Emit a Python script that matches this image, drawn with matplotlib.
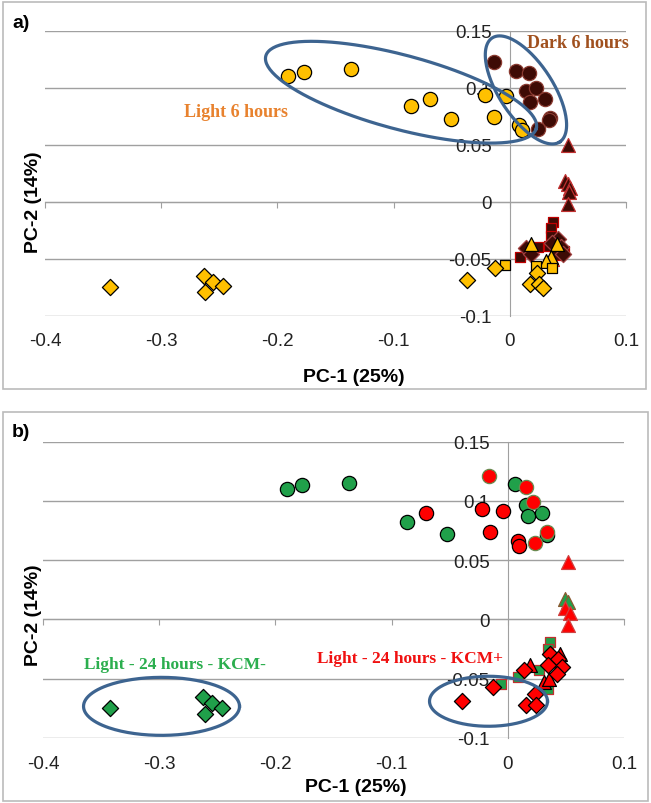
import numpy as np
import matplotlib.pyplot as plt
from matplotlib.patches import Rectangle

plt.rcParams['font.family'] = ['Liberation Sans', 'DejaVu Sans']

# ---- panel a data (PC-1, PC-2) ----
a_light_circ_x = [-0.191, -0.177, -0.137, -0.085, -0.069, -0.051, -0.021, -0.014, -0.003, 0.0077, 0.0106]
a_light_circ_y = [0.110, 0.114, 0.116, 0.0835, 0.090, 0.0729, 0.0934, 0.0744, 0.0923, 0.067, 0.0627]
a_dark_circ_x = [-0.0137, 0.0057, 0.0166, 0.0143, 0.0223, 0.0171, 0.030, 0.0343, 0.0335, 0.0243]
a_dark_circ_y = [0.1222, 0.1148, 0.1125, 0.0967, 0.0996, 0.087, 0.090, 0.0732, 0.0715, 0.0641]
a_dark_tri_x = [0.0503, 0.0477, 0.0498, 0.052, 0.0512, 0.0503, 0.036]
a_dark_tri_y = [0.0499, 0.0183, 0.0155, 0.012, 0.0083, -0.0017, -0.050]
a_dark_sq_x = [0.037, 0.0356, 0.0356, 0.0084, 0.024, 0.034, 0.047, 0.040]
a_dark_sq_y = [-0.018, -0.0228, -0.030, -0.0486, -0.040, -0.039, -0.043, -0.047]
a_dark_dia_x = [0.0141, 0.0184, 0.0418, 0.044, 0.0456, 0.036]
a_dark_dia_y = [-0.0404, -0.046, -0.0325, -0.040, -0.046, -0.036]
a_light_tri_x = [0.0184, 0.041, 0.0356, 0.0313]
a_light_tri_y = [-0.0375, -0.0375, -0.049, -0.052]
a_light_sq_x = [-0.0045, 0.0227, 0.0364]
a_light_sq_y = [-0.0556, -0.0565, -0.0585]
a_light_dia_x = [-0.344, -0.263, -0.255, -0.247, -0.262, -0.037, -0.0124, 0.0236, 0.017, 0.0255, 0.0284]
a_light_dia_y = [-0.075, -0.065, -0.071, -0.074, -0.0795, -0.069, -0.058, -0.0623, -0.0725, -0.0725, -0.0755]

# ---- panel b data ----
b_green_circ_x = [-0.190, -0.1775, -0.1367, -0.0868, -0.0526, 0.0058, 0.0154, 0.0172, 0.0294, 0.034]
b_green_circ_y = [0.110, 0.1135, 0.115, 0.0826, 0.0723, 0.1143, 0.0967, 0.0877, 0.0897, 0.071]
b_red_circ_x = [-0.070, -0.022, -0.004, -0.0151, 0.0085, 0.0096]
b_red_circ_y = [0.0897, 0.0933, 0.0919, 0.0742, 0.0666, 0.0619]
b_red2_circ_x = [-0.016, 0.016, 0.022, 0.0235, 0.0337]
b_red2_circ_y = [0.1208, 0.112, 0.0995, 0.0644, 0.0737]
b_green_tri_x = [0.049, 0.0515]
b_green_tri_y = [0.0174, 0.0146]
b_red_tri_x = [0.0515, 0.0494, 0.0537, 0.052]
b_red_tri_y = [0.0483, 0.010, 0.0055, -0.005]
b_red_tri2_x = [0.0192, 0.0445, 0.0309, 0.0352]
b_red_tri2_y = [-0.0388, -0.029, -0.0528, -0.050]
b_green_sq_x = [0.0366, 0.035, 0.009, 0.0265, 0.035, -0.0055]
b_green_sq_y = [-0.019, -0.0247, -0.0486, -0.043, -0.0584, -0.0542]
b_green_dia_x = [-0.342, -0.2626, -0.2547, -0.246, -0.261]
b_green_dia_y = [-0.0747, -0.065, -0.0705, -0.0747, -0.0795]
b_red_dia_x = [0.0143, 0.0366, 0.0433, 0.0468, 0.0425, 0.0346, -0.039, -0.0127, 0.023, 0.0157, 0.0244]
b_red_dia_y = [-0.043, -0.029, -0.0331, -0.0401, -0.0458, -0.0388, -0.069, -0.057, -0.0627, -0.0725, -0.0725]

xticks = [-0.4, -0.3, -0.2, -0.1, 0, 0.1]
yticks = [-0.1, -0.05, 0, 0.05, 0.1, 0.15]
xticklabels = ['-0.4', '-0.3', '-0.2', '-0.1', '0', '0.1']
yticklabels = ['-0.1', '-0.05', '0', '0.05', '0.1', '0.15']

YEL = '#FFC000'
DARK = '#3E0B05'
GREEN = '#20A04A'
RED = '#FF0000'
ELL = '#3D6490'
GRID = '#A0A0A0'

# marker areas (pt^2)
S_CIRC, S_TRI, S_SQ, S_DIA = 105, 100, 62, 68

W, H = 651, 804
fig = plt.figure(figsize=(W / 100, H / 100), dpi=100)


def setup(ax):
    ax.set_xlim(-0.4, 0.1)
    ax.set_ylim(-0.1, 0.15)
    for s in ['top', 'right', 'bottom']:
        ax.spines[s].set_visible(False)
    ax.spines['left'].set_position(('data', 0))
    ax.spines['left'].set_color(GRID)
    ax.set_yticks(yticks)
    ax.set_yticklabels(yticklabels)
    ax.set_xticks(xticks)
    ax.set_xticklabels(xticklabels)
    ax.tick_params(axis='y', length=0, pad=13, labelsize=13.5, colors='#222222')
    ax.tick_params(axis='x', length=0, pad=12, labelsize=13.5, colors='#222222')
    ax.grid(axis='y', color=GRID, lw=1)
    ax.set_axisbelow(True)
    sec = ax.secondary_xaxis(0.4)
    sec.set_xticks(xticks)
    sec.tick_params(length=4, color=GRID, labelbottom=False)
    sec.spines['bottom'].set_color(GRID)


def pts(ax, x, y, marker, s, face, edge, lw=0.9):
    ax.scatter(x, y, marker=marker, s=s, c=face, edgecolors=edge, linewidths=lw, zorder=3)


def ellipse(ax, cx, cy, a_px, b_px, ang, px_x, px_y):
    t = np.linspace(0, 2 * np.pi, 200)
    th = np.deg2rad(ang)
    ex = a_px * np.cos(t) * np.cos(th) - b_px * np.sin(t) * np.sin(th)
    ey = a_px * np.cos(t) * np.sin(th) + b_px * np.sin(t) * np.cos(th)
    ax.plot(cx + ex * px_x, cy + ey * px_y, color=ELL, lw=2.3, zorder=4)


# ---------- panel a ----------
axa = fig.add_axes([45 / W, 1 - 316.5 / H, 581 / W, 284.8 / H])
setup(axa)
pts(axa, a_light_circ_x, a_light_circ_y, 'o', S_CIRC, YEL, 'black')
pts(axa, a_dark_circ_x, a_dark_circ_y, 'o', S_CIRC, DARK, '#8A3A30')
pts(axa, a_dark_tri_x, a_dark_tri_y, '^', S_TRI, DARK, '#C03030')
pts(axa, a_dark_sq_x, a_dark_sq_y, 's', S_SQ, DARK, '#C00000')
pts(axa, a_dark_dia_x, a_dark_dia_y, 'D', S_DIA, DARK, '#A04040')
pts(axa, a_light_tri_x, a_light_tri_y, '^', S_TRI, YEL, 'black')
pts(axa, a_light_sq_x, a_light_sq_y, 's', S_SQ, YEL, 'black')
pts(axa, a_light_dia_x, a_light_dia_y, 'D', S_DIA, YEL, 'black')
pxa_x, pxa_y = 0.5 / 581, 0.25 / 284.8
ellipse(axa, -0.0936, 0.096, 140, 37, -15, pxa_x, pxa_y)
ellipse(axa, 0.0139, 0.098, 62, 27, -57, pxa_x, pxa_y)
axa.text(-0.2356, 0.0787, 'Light 6 hours', color='#E8822E', fontsize=13, fontweight='bold',
         family='Liberation Serif', ha='center', va='center')
axa.text(0.0587, 0.140, 'Dark 6 hours', color='#A0501E', fontsize=13, fontweight='bold',
         family='Liberation Serif', ha='center', va='center')

# ---------- panel b ----------
axb = fig.add_axes([43 / W, 1 - 739 / H, 581 / W, 296.3 / H])
setup(axb)
pts(axb, b_green_circ_x, b_green_circ_y, 'o', S_CIRC, GREEN, 'black')
pts(axb, b_red_circ_x, b_red_circ_y, 'o', S_CIRC, RED, 'black')
pts(axb, b_red2_circ_x, b_red2_circ_y, 'o', S_CIRC, RED, '#6A8A50')
pts(axb, b_green_tri_x, b_green_tri_y, '^', S_TRI, GREEN, '#8A5A30')
pts(axb, b_red_tri_x, b_red_tri_y, '^', S_TRI, RED, '#D04040')
pts(axb, b_green_sq_x, b_green_sq_y, 's', S_SQ, GREEN, '#C03030')
pts(axb, b_red_tri2_x, b_red_tri2_y, '^', S_TRI, RED, 'black')
pts(axb, b_green_dia_x, b_green_dia_y, 'D', S_DIA, GREEN, 'black')
pts(axb, b_red_dia_x, b_red_dia_y, 'D', S_DIA, RED, 'black')
pxb_x, pxb_y = 0.5 / 581, 0.25 / 296.3
ellipse(axb, -0.298, -0.0733, 78, 29, 0, pxb_x, pxb_y)
ellipse(axb, -0.0166, -0.069, 59, 25, 0, pxb_x, pxb_y)
axb.text(-0.2864, -0.0374, 'Light - 24 hours - KCM-', color='#2BAE4E', fontsize=12.5,
         fontweight='bold', family='Liberation Serif', ha='center', va='center')
axb.text(-0.0842, -0.0324, 'Light - 24 hours - KCM+', color='#F01010', fontsize=12.5,
         fontweight='bold', family='Liberation Serif', ha='center', va='center')

# ---------- labels and frames ----------
fig.text(354 / W, 1 - 378 / H, 'PC-1 (25%)', ha='center', va='center', fontsize=14, fontweight='bold')
fig.text(33 / W, 1 - 202 / H, 'PC-2 (14%)', ha='center', va='center', fontsize=14,
         fontweight='bold', rotation=90)
fig.text(356 / W, 1 - 788 / H, 'PC-1 (25%)', ha='center', va='center', fontsize=14, fontweight='bold')
fig.text(33 / W, 1 - 615 / H, 'PC-2 (14%)', ha='center', va='center', fontsize=14,
         fontweight='bold', rotation=90)
fig.text(21 / W, 1 - 23 / H, 'a)', ha='center', va='center', fontsize=14, fontweight='bold')
fig.text(21 / W, 1 - 433 / H, 'b)', ha='center', va='center', fontsize=14, fontweight='bold')

fig.patches.append(Rectangle((3 / W, 1 - 390 / H), 643 / W, 387 / H, transform=fig.transFigure,
                             fill=False, edgecolor='#BBBBBB', lw=1.2))
fig.patches.append(Rectangle((3 / W, 1 - 802 / H), 645 / W, 389 / H, transform=fig.transFigure,
                             fill=False, edgecolor='#BBBBBB', lw=1.2))

fig.savefig('out.png', dpi=100)
